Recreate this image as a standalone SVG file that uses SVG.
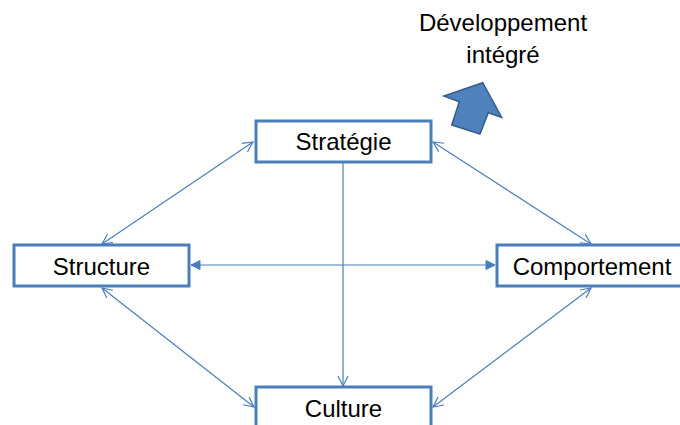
<svg xmlns="http://www.w3.org/2000/svg" width="680" height="425" viewBox="0 0 680 425">
<style>
.box{fill:#fff;stroke:#4a7ebb;stroke-width:3}
.lbl{font-family:"Liberation Sans",Arial,sans-serif;font-size:24px;fill:#000;text-anchor:middle}
.cn{fill:none;stroke:#4a7ebb;stroke-width:1.2}
</style>
<defs>
<marker id="open" markerUnits="userSpaceOnUse" markerWidth="14" markerHeight="14" viewBox="-12 -7 14 14" refX="0" refY="0" orient="auto-start-reverse">
<path d="M-10,-5 L0,0 L-10,5" fill="none" stroke="#4a7ebb" stroke-width="1.2"/>
</marker>
<marker id="fill" markerUnits="userSpaceOnUse" markerWidth="14" markerHeight="14" viewBox="-12 -7 14 14" refX="0" refY="0" orient="auto-start-reverse">
<path d="M-9,-4.5 L0,0 L-9,4.5 Z" fill="#4a7ebb" stroke="#4a7ebb" stroke-width="1"/>
</marker>
</defs>
<g id="connectors">
<line class="cn" x1="253" y1="142" x2="102" y2="244" marker-start="url(#open)" marker-end="url(#open)"/>
<line class="cn" x1="433" y1="142" x2="591" y2="244" marker-start="url(#open)" marker-end="url(#open)"/>
<line class="cn" x1="102" y1="288" x2="254" y2="407" marker-start="url(#open)" marker-end="url(#open)"/>
<line class="cn" x1="591" y1="288" x2="433" y2="407" marker-start="url(#open)" marker-end="url(#open)"/>
<line class="cn" x1="191" y1="265" x2="495" y2="265" marker-start="url(#fill)" marker-end="url(#fill)"/>
<line class="cn" x1="343" y1="163" x2="343" y2="386" marker-end="url(#open)"/>
</g>
<g id="strategie">
<rect class="box" x="256" y="121" width="175" height="41"/>
<text class="lbl" x="343.5" y="150">Stratégie</text>
</g>
<g id="structure">
<rect class="box" x="14" y="245" width="175" height="41"/>
<text class="lbl" x="101.5" y="275">Structure</text>
</g>
<g id="comportement">
<rect class="box" x="497" y="245" width="192" height="41"/>
<text class="lbl" x="592" y="275">Comportement</text>
</g>
<g id="culture">
<rect class="box" x="256" y="387" width="175" height="41"/>
<text class="lbl" x="343.5" y="417">Culture</text>
</g>
<g id="developpement">
<polygon points="444,96 482.7,82.7 501.7,117.3 488.3,112.7 480,134 451.7,125 459.3,101.7" fill="#4f81bd" stroke="#385d8a" stroke-width="1.5" stroke-linejoin="miter"/>
<text class="lbl" x="503" y="31">Développement</text>
<text class="lbl" x="503" y="63">intégré</text>
</g>
</svg>
